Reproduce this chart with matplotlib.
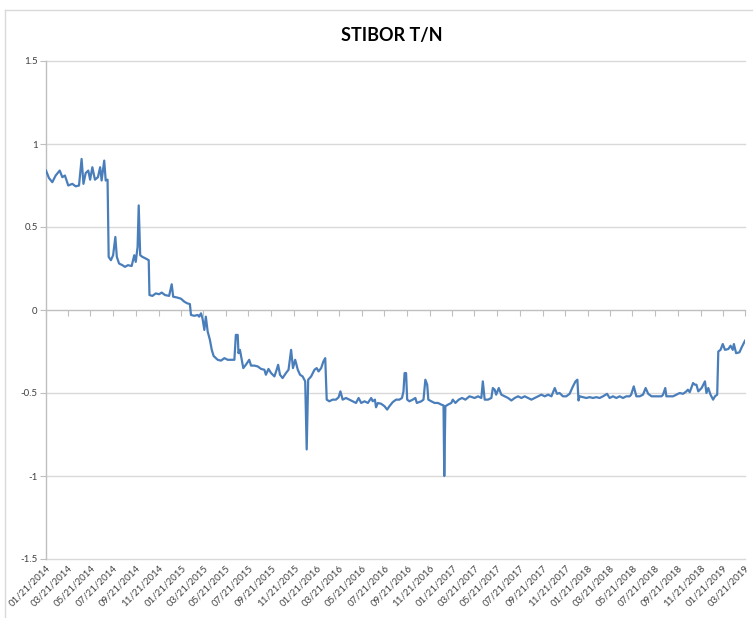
import matplotlib
matplotlib.use("Agg")
import matplotlib.pyplot as plt
import pandas as pd
import numpy as np
from matplotlib.lines import Line2D

# ---- data ----
start_date = "2014-01-21"
end_date = "2019-03-21"
# days since 2014-01-21
days = [0, 8, 17, 26, 37, 44, 51, 60, 71, 80, 89, 96, 101, 107, 114, 119, 125, 132, 140, 146,
        150, 157, 161, 166, 169, 175, 181, 187, 191, 197, 206, 213, 221, 231, 238, 242, 247, 250,
        254, 260, 269, 277, 279, 287, 296, 305, 312, 321, 332, 339, 343, 354, 364, 373, 381, 388,
        391, 400, 409, 413, 418, 422, 427, 431, 436, 442, 447, 452, 463, 472, 481, 490, 499, 508,
        512, 517, 519, 523, 528, 532, 539, 548, 553, 562, 571, 580, 589, 593, 600, 607, 616, 622,
        626, 631, 638, 647, 654, 661, 666, 672, 679, 685, 692, 699, 703, 707, 715, 724, 730, 735,
        742, 748, 753, 757, 764, 773, 782, 789, 794, 800, 809, 818, 827, 836, 843, 850, 859, 868,
        877, 881, 887, 890, 895, 904, 913, 920, 926, 935, 944, 953, 960, 964, 967, 971, 974, 980,
        989, 996, 1000, 1012, 1018, 1023, 1028, 1031, 1039, 1048, 1057, 1066, 1072, 1074, 1077,
        1084, 1093, 1097, 1104, 1113, 1122, 1131, 1142, 1156, 1165, 1174, 1178, 1183, 1192, 1201,
        1205, 1210, 1214, 1221, 1228, 1237, 1246, 1255, 1264, 1273, 1282, 1291, 1300, 1309, 1318,
        1327, 1336, 1345, 1354, 1363, 1372, 1378, 1385, 1394, 1403, 1412, 1421, 1428, 1433, 1436,
        1439, 1448, 1457, 1466, 1475, 1484, 1493, 1502, 1513, 1520, 1529, 1538, 1547, 1556, 1565,
        1574, 1578, 1585, 1592, 1601, 1610, 1617, 1624, 1633, 1642, 1651, 1660, 1664, 1670, 1673,
        1682, 1691, 1700, 1709, 1718, 1727, 1731, 1736, 1745, 1750, 1754, 1759, 1768, 1777, 1781,
        1786, 1792, 1799, 1804, 1810, 1813, 1819, 1825, 1831, 1840, 1846, 1852, 1855, 1861, 1870,
        1876, 1885]
stibor_tn = [0.84, 0.795, 0.77, 0.81, 0.84, 0.80, 0.81, 0.75, 0.76, 0.745, 0.75, 0.91, 0.76, 0.825,
             0.84, 0.785, 0.86, 0.785, 0.80, 0.86, 0.78, 0.90, 0.78, 0.785, 0.32, 0.30, 0.33, 0.44,
             0.32, 0.28, 0.27, 0.26, 0.27, 0.265, 0.33, 0.29, 0.38, 0.63, 0.33, 0.32, 0.31, 0.30,
             0.09, 0.085, 0.10, 0.095, 0.105, 0.09, 0.085, 0.155, 0.08, 0.075, 0.068, 0.05, 0.04,
             0.036, -0.03, -0.035, -0.03, -0.04, -0.02, -0.05, -0.12, -0.04, -0.13, -0.18, -0.24,
             -0.277, -0.30, -0.305, -0.29, -0.30, -0.30, -0.30, -0.15, -0.15, -0.26, -0.24, -0.30,
             -0.35, -0.33, -0.30, -0.335, -0.335, -0.34, -0.355, -0.36, -0.39, -0.355, -0.38, -0.40,
             -0.36, -0.33, -0.39, -0.41, -0.38, -0.36, -0.24, -0.35, -0.30, -0.36, -0.39, -0.40,
             -0.43, -0.84, -0.42, -0.40, -0.36, -0.35, -0.37, -0.35, -0.31, -0.29, -0.54, -0.55,
             -0.54, -0.54, -0.526, -0.49, -0.54, -0.53, -0.54, -0.55, -0.56, -0.53, -0.56, -0.55,
             -0.56, -0.53, -0.55, -0.54, -0.586, -0.56, -0.565, -0.58, -0.60, -0.58, -0.555, -0.54,
             -0.54, -0.53, -0.49, -0.38, -0.38, -0.54, -0.55, -0.54, -0.53, -0.56, -0.55, -0.54,
             -0.42, -0.45, -0.54, -0.55, -0.56, -0.56, -0.57, -0.575, -1.0, -0.58, -0.57, -0.56,
             -0.54, -0.56, -0.54, -0.53, -0.54, -0.52, -0.53, -0.52, -0.53, -0.43, -0.54, -0.54,
             -0.53, -0.47, -0.48, -0.51, -0.47, -0.51, -0.52, -0.53, -0.545, -0.53, -0.52, -0.53,
             -0.52, -0.53, -0.54, -0.53, -0.52, -0.51, -0.52, -0.51, -0.52, -0.47, -0.505, -0.50,
             -0.52, -0.52, -0.505, -0.46, -0.43, -0.42, -0.545, -0.52, -0.525, -0.53, -0.525, -0.53,
             -0.525, -0.53, -0.52, -0.505, -0.53, -0.52, -0.53, -0.52, -0.53, -0.52, -0.52, -0.51,
             -0.46, -0.52, -0.52, -0.51, -0.47, -0.505, -0.52, -0.52, -0.52, -0.52, -0.51, -0.47,
             -0.52, -0.52, -0.52, -0.51, -0.50, -0.505, -0.49, -0.48, -0.495, -0.44, -0.45, -0.45,
             -0.49, -0.47, -0.43, -0.50, -0.47, -0.51, -0.54, -0.52, -0.51, -0.25, -0.24, -0.205,
             -0.24, -0.235, -0.215, -0.24, -0.205, -0.26, -0.255, -0.225, -0.185]
y_ticks = [-1.5, -1, -0.5, 0, 0.5, 1, 1.5]
y_tick_labels = ["-1.5", "-1", "-0.5", "0", "0.5", "1", "1.5"]
title = "STIBOR T/N"

# ---- build ----
t0 = pd.Timestamp(start_date)
dates = t0 + pd.to_timedelta(days, unit="D")
tick_dates = pd.date_range(start_date, end_date, freq=pd.DateOffset(months=2))
tick_labels = [d.strftime("%m/%d/%Y") for d in tick_dates]

fig = plt.figure(figsize=(7.53, 6.18), dpi=100)
W, H = 753, 618
ax = fig.add_axes([46 / W, (H - 559) / H, (745 - 46) / W, (559 - 61) / H])

grid_c = "#D9D9D9"
axis_c = "#BFBFBF"
text_c = "#404040"

ax.set_ylim(-1.5, 1.5)
ax.set_xlim(t0, pd.Timestamp(end_date))
ax.set_yticks(y_ticks)
ax.set_yticklabels(y_tick_labels)
for yv in y_ticks:
    if yv != 0:
        ax.axhline(yv, color=grid_c, lw=1.0, zorder=0, clip_on=False)

ax.plot(dates, stibor_tn, color="#4A7EBB", lw=1.6, zorder=3, solid_joinstyle="round")

for s in ["top", "right"]:
    ax.spines[s].set_visible(False)
ax.spines["left"].set_color(axis_c)
ax.spines["left"].set_linewidth(1.0)
ax.spines["bottom"].set_position(("data", 0))
ax.spines["bottom"].set_color(axis_c)
ax.spines["bottom"].set_linewidth(1.0)

ax.set_xticks(tick_dates)
ax.tick_params(axis="x", which="both", direction="out", length=4, color=axis_c,
               labelbottom=False)
ax.tick_params(axis="y", direction="out", length=4, color=axis_c, labelsize=7,
               labelcolor=text_c, pad=2)
for lab in ax.get_yticklabels():
    lab.set_fontfamily("Lato")

sec = ax.secondary_xaxis(0.0)
sec.set_xticks(tick_dates)
sec.set_xticklabels(tick_labels, rotation=45, ha="right", va="top",
                    rotation_mode="anchor", fontsize=7, color=text_c, family="Lato")
sec.tick_params(length=0, pad=3)
sec.spines["bottom"].set_visible(False)

fig.text(392 / W, 1 - 36 / H, title, ha="center", va="center", fontsize=13,
         fontweight="bold", family="Lato", color="black")

# outer chart border (left and top visible)
fig.add_artist(Line2D([5 / W, 5 / W], [0, 1 - 10 / H], color=grid_c, lw=1.0,
                      transform=fig.transFigure))
fig.add_artist(Line2D([5 / W, 1], [1 - 10 / H, 1 - 10 / H], color=grid_c, lw=1.0,
                      transform=fig.transFigure))

fig.savefig("out.png", dpi=100, facecolor="white")
